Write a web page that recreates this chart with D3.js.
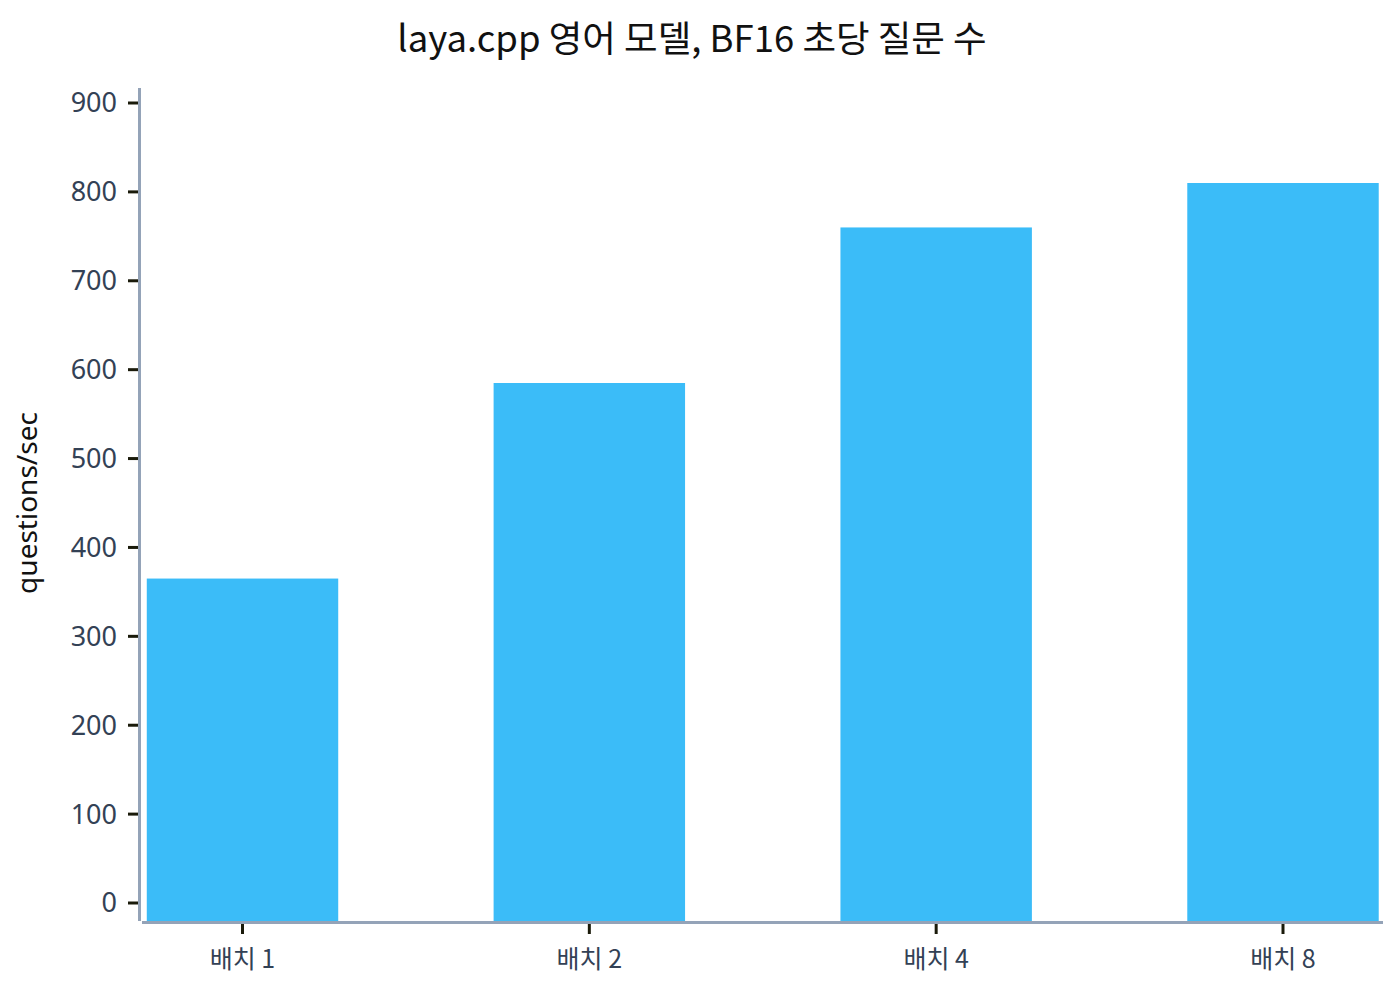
<!DOCTYPE html>
<html><head><meta charset="utf-8">
<script src="https://cdn.jsdelivr.net/npm/d3@7/dist/d3.min.js"></script>
<style>body{margin:0;background:#fff}svg{display:block}</style>
</head><body>
<svg id="c" width="1400" height="1000"></svg>
<script>
const categories = ["배치 1", "배치 2", "배치 4", "배치 8"];
const values = [365, 585, 760, 810];
const yTicks = [0, 100, 200, 300, 400, 500, 600, 700, 800, 900];
const title = "laya.cpp 영어 모델, BF16 초당 질문 수";
const yLabel = "questions/sec";

const svg = d3.select("#c");
const y = d3.scaleLinear().domain([0, 900]).range([903, 103]);
const x = d3.scalePoint().domain(categories).range([242.5, 1283]);
const step = x.step();
const bw = step * 0.552;
const baseY = 921;

svg.append("text").attr("x", 692).attr("y", 52).attr("text-anchor", "middle")
  .attr("font-family", "'Noto Sans CJK KR','Noto Sans',sans-serif").attr("font-size", 36.5)
  .attr("fill", "#111").text(title);

svg.append("g").selectAll("rect").data(values).join("rect")
  .attr("x", (d, i) => x(categories[i]) - bw / 2)
  .attr("width", bw)
  .attr("y", d => y(d))
  .attr("height", d => baseY - y(d))
  .attr("fill", "#3bbcf8");

// y axis
const yAxis = svg.append("g");
yAxis.append("line").attr("x1", 139.5).attr("x2", 139.5).attr("y1", 88).attr("y2", 921)
  .attr("stroke", "#94a3b8").attr("stroke-width", 3);
const yt = yAxis.selectAll("g.t").data(yTicks).join("g").attr("class", "t")
  .attr("transform", d => `translate(0,${y(d)})`);
yt.append("line").attr("x1", 128).attr("x2", 138).attr("stroke", "#1a1a0a").attr("stroke-width", 3);
yt.append("text").attr("x", 117).attr("dy", "0.35em").attr("text-anchor", "end")
  .attr("font-family", "'Noto Sans',sans-serif").attr("font-size", 27).attr("fill", "#334155")
  .text(d => d);

// x axis
const xAxis = svg.append("g");
xAxis.append("line").attr("x1", 142).attr("x2", 1383).attr("y1", 922.5).attr("y2", 922.5)
  .attr("stroke", "#94a3b8").attr("stroke-width", 3);
const xt = xAxis.selectAll("g.t").data(categories).join("g").attr("class", "t")
  .attr("transform", d => `translate(${x(d)},0)`);
xt.append("line").attr("y1", 924).attr("y2", 934).attr("stroke", "#1a1a0a").attr("stroke-width", 3);
xt.append("text").attr("y", 968).attr("text-anchor", "middle")
  .attr("font-family", "'Noto Sans CJK KR','Noto Sans',sans-serif").attr("font-size", 25).attr("fill", "#334155")
  .text(d => d);

svg.append("text").attr("transform", "translate(37,503) rotate(-90)").attr("text-anchor", "middle")
  .attr("font-family", "'Noto Sans',sans-serif").attr("font-size", 28).attr("fill", "#111")
  .text(yLabel);
</script>
</body></html>
